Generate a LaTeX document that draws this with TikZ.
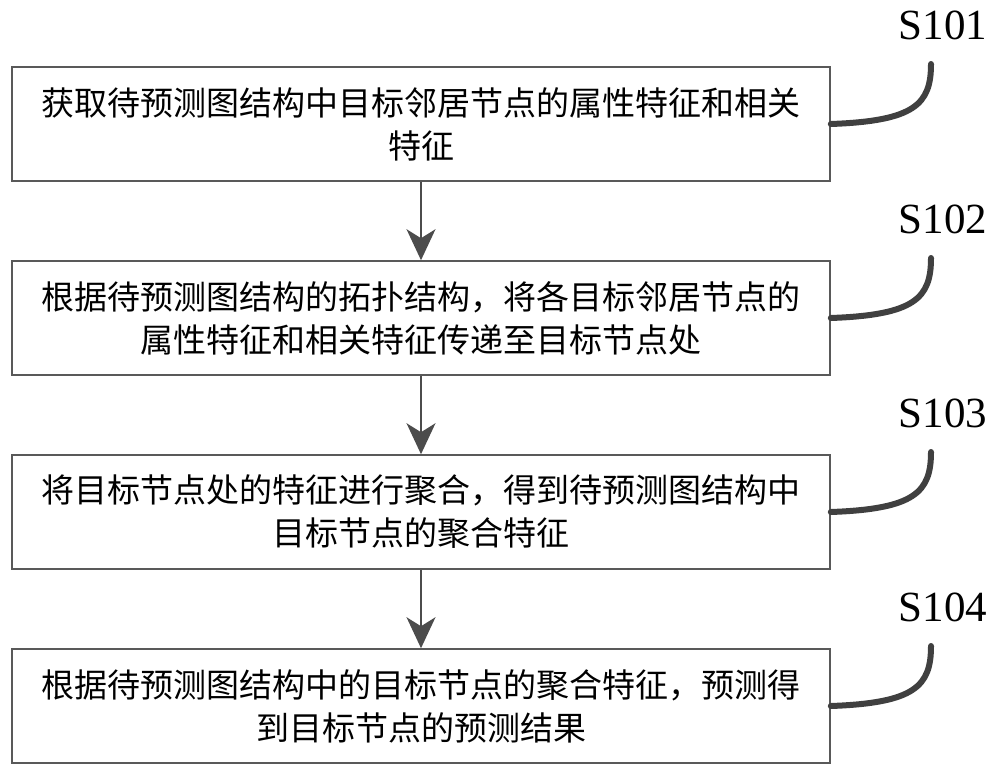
\documentclass[tikz,border=0pt]{standalone}
\usepackage{fontspec}
\setmainfont{Liberation Serif}
\newfontfamily\cjk{Noto Sans CJK SC}
\usetikzlibrary{arrows.meta}
\begin{document}
\begin{tikzpicture}[x=1pt,y=-1pt,
  stepbox/.style={draw=black!65,line width=1.6pt,minimum width=818pt,minimum height=114pt,inner sep=0pt,
    align=center,font=\cjk\fontsize{33}{43}\selectfont,text=black},
  flow/.style={draw=black!70,line width=1.4pt,-{Stealth[length=31pt,width=29pt,inset=9pt]}},
  hook/.style={draw=black!75,line width=6pt,line cap=round},
  steplabel/.style={font=\fontsize{43}{43}\selectfont,inner sep=0pt,anchor=base}]
\useasboundingbox (0,0) rectangle (1000,774);
\node[stepbox] (b1) at (421,124) {获取待预测图结构中目标邻居节点的属性特征和相关\\特征};
\node[stepbox] (b2) at (421,318) {根据待预测图结构的拓扑结构，将各目标邻居节点的\\属性特征和相关特征传递至目标节点处};
\node[stepbox] (b3) at (421,512) {将目标节点处的特征进行聚合，得到待预测图结构中\\目标节点的聚合特征};
\node[stepbox] (b4) at (421,706) {根据待预测图结构中的目标节点的聚合特征，预测得\\到目标节点的预测结果};
\draw[flow] (b1.south) -- (b2.north);
\draw[flow] (b2.south) -- (b3.north);
\draw[flow] (b3.south) -- (b4.north);
\foreach \i/\yy/\lab in {1/124/S101,2/318/S102,3/512/S103,4/706/S104}{
  \node[steplabel] (l\i) at (943,\yy-85) {\lab};
  \coordinate (t\i) at (931,\yy-60);
  \draw[hook] (b\i.east) .. controls (915,\yy-3) and (931,\yy-20) .. (t\i);
}
\end{tikzpicture}
\end{document}
